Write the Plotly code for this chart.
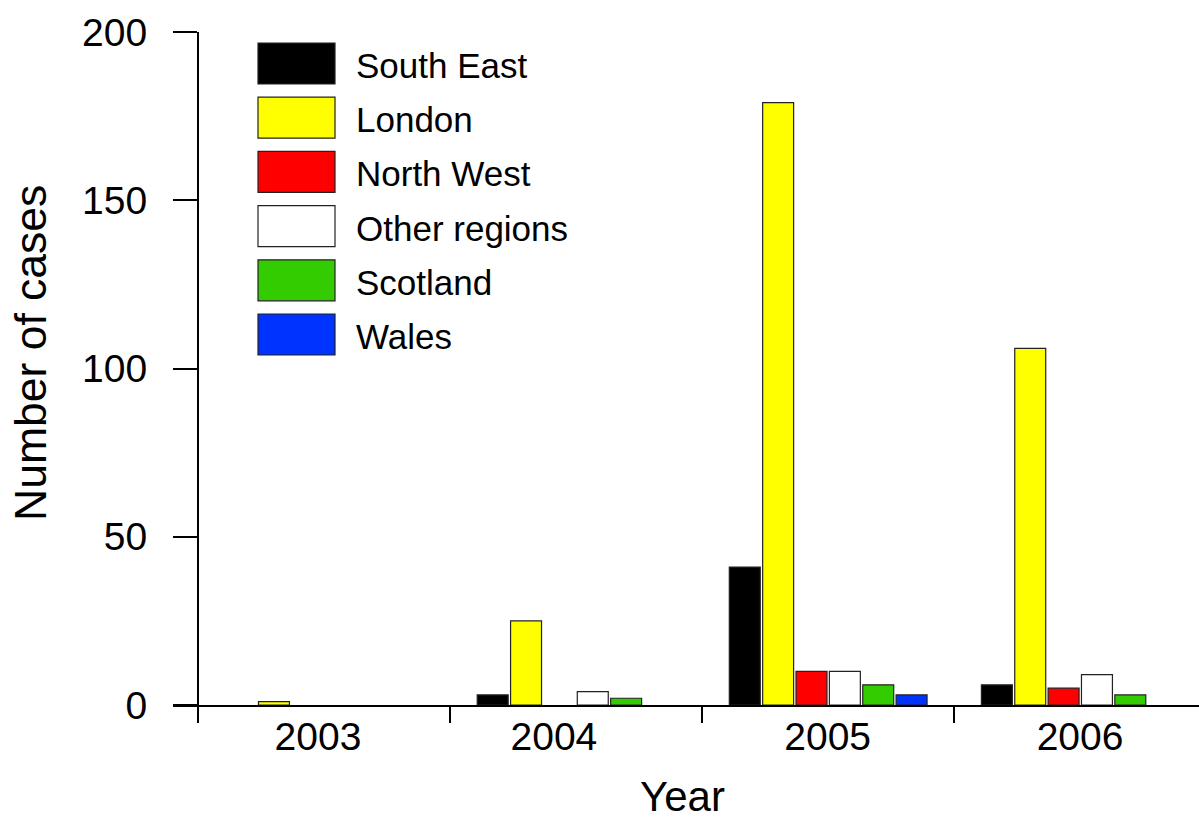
import plotly.graph_objects as go

years = ["2003", "2004", "2005", "2006"]
year_pos = [0, 1, 2, 3]
label_pos = [-0.024, 0.912, 1.998, 2.999]
boundaries = [-0.5, 0.5, 1.5, 2.5, 3.5]

regions = ["South East", "London", "North West", "Other regions", "Scotland", "Wales"]
colors = ["#000000", "#FFFF00", "#FF0000", "#FFFFFF", "#33CC00", "#0033FF"]

south_east = [0, 3, 41, 6]
london = [1, 25, 179, 106]
north_west = [0, 0, 10, 5]
other_regions = [0, 4, 10, 9]
scotland = [0, 2, 6, 3]
wales = [0, 0, 3, 0]
series = [south_east, london, north_west, other_regions, scotland, wales]

y_ticks = [0, 50, 100, 150, 200]

W, H = 1199, 821
L, R, T, B = 173, 0, 32, 116
PW, PH = W - L - R, H - T - B

def px_x(px):
    return (px - L) / PW

def px_y(py):
    return (H - B - py) / PH

FONT = "Liberation Sans, Arial, sans-serif"

fig = go.Figure()
for name, vals, col in zip(regions, series, colors):
    fig.add_trace(go.Bar(
        x=year_pos, y=vals, name=name,
        marker=dict(color=col,
                    line=dict(color="#222222",
                              width=[0 if v == 0 else 1.2 for v in vals])),
        showlegend=False,
    ))

# custom legend (large swatches)
legend_top = 43
row_step = 54.2
box_w, box_h = 77, 41
shapes = []
annotations = []
for i, (name, col) in enumerate(zip(regions, colors)):
    top = legend_top + i * row_step
    shapes.append(dict(
        type="rect", xref="paper", yref="paper",
        x0=px_x(258), x1=px_x(258 + box_w),
        y0=px_y(top + box_h), y1=px_y(top),
        fillcolor=col, line=dict(color="#222222", width=1.2),
    ))
    annotations.append(dict(
        xref="paper", yref="paper", x=px_x(354), y=px_y(top + box_h / 2 + 2),
        text=name, showarrow=False, xanchor="left", yanchor="middle",
        font=dict(family=FONT, size=35, color="black"),
    ))

annotations.append(dict(
    xref="paper", yref="paper", x=px_x(682), y=px_y(821),
    text="Year", showarrow=False, xanchor="center", yanchor="bottom",
    borderpad=0,
    font=dict(family=FONT, size=42, color="black"),
))
annotations.append(dict(
    xref="paper", yref="paper", x=px_x(30), y=px_y(353),
    text="Number of cases", showarrow=False, textangle=-90,
    xanchor="center", yanchor="middle",
    font=dict(family=FONT, size=44.5, color="black"),
))

fig.update_layout(
    width=W, height=H,
    margin=dict(l=L, r=R, t=T, b=B, pad=0),
    paper_bgcolor="white", plot_bgcolor="white",
    barmode="group", bargap=0.206, bargroupgap=0.072,
    shapes=shapes, annotations=annotations,
    xaxis=dict(
        range=[-0.599, 3.471], showgrid=False, zeroline=False,
        showline=True, linecolor="black", linewidth=2,
        tickmode="array", tickvals=label_pos, ticktext=years, ticks="",
        ticklabelstandoff=-4,
        tickfont=dict(family=FONT, size=39, color="black"),
        minor=dict(tickmode="array", tickvals=boundaries, ticks="outside",
                   ticklen=16, tickwidth=2, tickcolor="black", showgrid=False),
        fixedrange=True,
    ),
    yaxis=dict(
        range=[0, 200], anchor="free", position=px_x(198),
        showgrid=False, zeroline=False,
        showline=True, linecolor="black", linewidth=2,
        tickmode="array", tickvals=y_ticks,
        ticks="outside", ticklen=24, tickwidth=2, tickcolor="black",
        ticklabelstandoff=18,
        tickfont=dict(family=FONT, size=39, color="black"),
        fixedrange=True,
    ),
)

fig.write_html("out.html")
